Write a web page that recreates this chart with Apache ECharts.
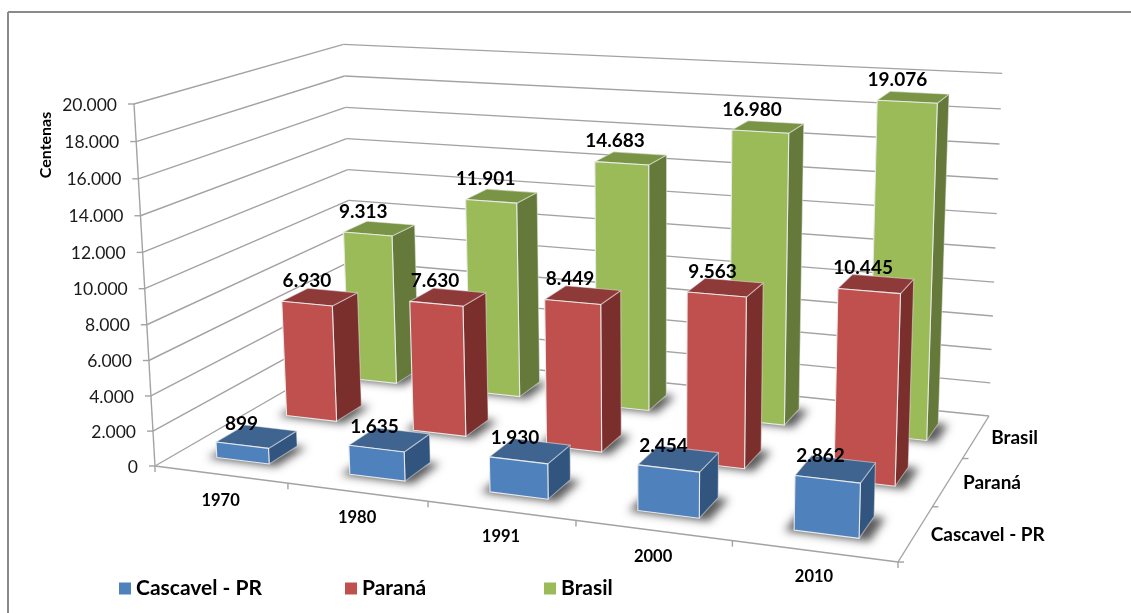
<!DOCTYPE html>
<html><head><meta charset="utf-8">
<style>html,body{margin:0;padding:0;background:#fff}#c{width:1131px;height:613px}</style>
<script src="https://cdn.jsdelivr.net/npm/echarts@6/dist/echarts.min.js"></script>
</head><body><div id="c"></div>
<script>
const categories = ['1970','1980','1991','2000','2010'];
const depthNames = ['Cascavel - PR','Paraná','Brasil'];
const cascavel = [899,1635,1930,2454,2862];
const parana = [6930,7630,8449,9563,10445];
const brasil = [9313,11901,14683,16980,19076];
const yTicks = [0,2000,4000,6000,8000,10000,12000,14000,16000,18000,20000];
const yMax = 20000;
const W = 1131, H = 613;

// Camera: floor corners and vertical vanishing point of the 3-D box
const A=[155,466], B=[898,562], C=[989,416], D=[354,351], VP=[655,9088], TOPLEFT_Y=104;
const dx1=B[0]-C[0],dx2=D[0]-C[0],sx=A[0]-B[0]+C[0]-D[0];
const dy1=B[1]-C[1],dy2=D[1]-C[1],sy=A[1]-B[1]+C[1]-D[1];
const dd=dx1*dy2-dx2*dy1;
const g=(sx*dy2-dx2*sy)/dd, h=(dx1*sy-sx*dy1)/dd;
const a=B[0]-A[0]+g*B[0], b=D[0]-A[0]+h*D[0], c0=A[0];
const d=B[1]-A[1]+g*B[1], e=D[1]-A[1]+h*D[1], f=A[1];
const k=(A[1]-TOPLEFT_Y)/(TOPLEFT_Y-VP[1]);
// u: 0..categories, v: 0..depth rows, r: 0..1 of the value axis
function project(u,v,r){
  const s=u/categories.length,t=v/depthNames.length;
  const q=g*s+h*t+1+k*r;
  return [(a*s+b*t+c0+k*VP[0]*r)/q,(d*s+e*t+f+k*VP[1]*r)/q];
}
const LABEL='#1a1a1a', GRID='#a3a3a3';
const BAR=0.4, SH=0.05, OFF=3000;
function font(sz,bold){return (bold?'bold ':'')+sz+'px Lato';}
function text(x,y,s,sz,bold,align,color){
  return {type:'text',x:x,y:y,z2:50,style:{text:s,fill:color||'#000',font:font(sz,bold),align:align||'center',verticalAlign:'middle'}};
}
function line(p,q,w){
  return {type:'line',shape:{x1:p[0],y1:p[1],x2:q[0],y2:q[1]},style:{stroke:GRID,lineWidth:w||1.4}};
}
function barRender(row,cols){
  return function(params,api){
    const pt=api.coord([api.value(0),api.value(1)]);
    const u=pt[0]/W*categories.length, r=(H-pt[1])/H;
    const v=row+0.5,x0=u-BAR/2,x1=u+BAR/2,y0=v-BAR/2,y1=v+BAR/2;
    const poly=(ps,fill,stroke)=>({type:'polygon',shape:{points:ps},style:{fill:fill,stroke:stroke||null,lineWidth:stroke?1.1:0,lineJoin:'round'}});
    const foot=[project(x0-SH,y0-SH*.6,0),project(x1+SH*1.4,y0-SH*.6,0),project(x1+SH*1.4,y1,0),project(x0-SH,y1,0)].map(p=>[p[0]-OFF,p[1]]);
    const shadow={type:'polygon',shape:{points:foot},
      style:{fill:'#000',shadowBlur:9,shadowOffsetX:OFF,shadowColor:'rgba(60,60,60,0.85)'}};
    const front=[project(x0,y0,0),project(x1,y0,0),project(x1,y0,r),project(x0,y0,r)];
    const side=[project(x1,y0,0),project(x1,y1,0),project(x1,y1,r),project(x1,y0,r)];
    const top=[project(x0,y0,r),project(x1,y0,r),project(x1,y1,r),project(x0,y1,r)];
    const lab=project(u,v,r);
    return {type:'group',children:[shadow,
      poly(side,cols.side,'rgba(235,235,235,0.5)'),poly(top,cols.top,'rgba(235,235,235,0.5)'),poly(front,cols.front,'#e9e9e9'),
      text(lab[0]+cols.dx,lab[1]+cols.dy,api.value(1).toLocaleString('de-DE'),19,true)]};
  };
}
const palette=[
 {front:'#4F81BD',top:'#3F6490',side:'#32557F',dx:-15,dy:-13},
 {front:'#C0504D',top:'#8E3A38',side:'#7A2F2D',dx:-13,dy:-16},
 {front:'#9BBB59',top:'#7A9446',side:'#64793A',dx:-16,dy:-17}];
const rows=[cascavel,parana,brasil];
function barSeries(i){
  return {type:'custom',name:depthNames[i],z:10-i,clip:false,silent:true,
    itemStyle:{color:palette[i].front},encode:{x:0,y:1},
    data:rows[i].map((val,j)=>[j,val]),renderItem:barRender(i,palette[i])};
}
const legendAt=[114,340,539];
const option={
  animation:false,backgroundColor:'#fff',
  grid:{left:0,right:0,top:0,bottom:0,show:false},
  xAxis:{type:'category',data:categories,show:false},
  yAxis:{type:'value',min:0,max:yMax,interval:2000,show:false},
  legend:depthNames.map((n,i)=>({data:[n],left:legendAt[i],top:573,icon:'rect',itemWidth:12,itemHeight:12,itemGap:6,
    selectedMode:false,textStyle:{fontFamily:'Lato',fontWeight:'bold',fontSize:21,color:'#000'}})),
  graphic:[
   {type:'line',silent:true,shape:{x1:8,y1:12,x2:8,y2:613},style:{stroke:'#8a8a8a',lineWidth:2}},
   {type:'line',silent:true,shape:{x1:8,y1:12,x2:1131,y2:12},style:{stroke:'#8a8a8a',lineWidth:2}},
   {type:'text',silent:true,x:46,y:145,rotation:Math.PI/2,style:{text:'Centenas',font:'bold 16px Lato',fill:'#000',align:'center',verticalAlign:'middle'}}
  ],
  series:[
   {type:'custom',name:'grid',z:1,clip:false,silent:true,encode:{x:0,y:1},
    data:yTicks.map(t=>[0,t]),
    renderItem(params,api){
      const t=api.value(1), r=(H-api.coord([0,t])[1])/H, n=categories.length, m=depthNames.length;
      const p0=project(0,0,r),p1=project(0,m,r),p2=project(n,m,r);
      return {type:'group',children:[line(p0,p1),line(p1,p2),line([p0[0]-6,p0[1]],p0),
        text(p0[0]-17,p0[1]+1,t===0?'0':t.toLocaleString('de-DE'),17.5,false,'right',LABEL)]};
    }},
   {type:'custom',name:'frame',z:1,clip:false,silent:true,encode:{x:0,y:1},
    data:[[0,yMax]],
    renderItem(params,api){
      const n=categories.length,m=depthNames.length;
      return {type:'group',children:[line(project(0,0,0),project(0,0,1)),line(project(0,0,0),project(n,0,0)),line(project(n,0,0),project(n,m,0))]};
    }},
   {type:'custom',name:'cats',z:1,clip:false,silent:true,encode:{x:0,y:1},
    data:categories.map((c,i)=>[i,0]),
    renderItem(params,api){
      const i=params.dataIndex,u=api.coord([i,0])[0]/W*categories.length;
      const tickAt=project(i+1,0,0), mid=project(u,0,0), ch=[line(tickAt,[tickAt[0],tickAt[1]+6]),text(mid[0],mid[1]+26,categories[i],16.5,true)];
      if(i===0){const o=project(0,0,0);ch.push(line(o,[o[0],o[1]+6]));}
      return {type:'group',children:ch};
    }},
   {type:'custom',name:'rows',z:1,clip:false,silent:true,encode:{x:0,y:1},
    data:depthNames.map((c,i)=>[0,i]),
    renderItem(params,api){
      const i=params.dataIndex,n=categories.length;
      const tickAt=project(n,i,0), mid=project(n,i+.5,0), ch=[line(tickAt,[tickAt[0]+6,tickAt[1]]),text(mid[0]+15,mid[1]+1,depthNames[i],19,true,'left')];
      return {type:'group',children:ch};
    }},
   barSeries(2),barSeries(1),barSeries(0)
  ]
};
echarts.init(document.getElementById('c'),null,{renderer:'canvas'}).setOption(option);
</script></body></html>
